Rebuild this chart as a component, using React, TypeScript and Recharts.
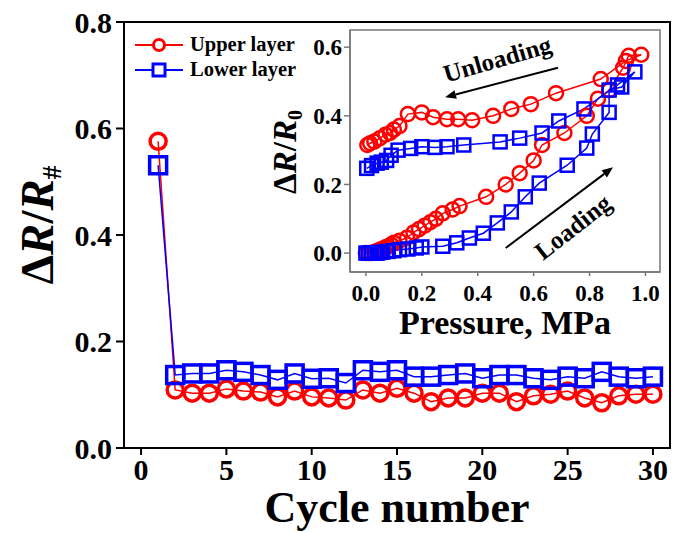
import React from "react";
import {
  LineChart,
  Line,
  XAxis,
  YAxis,
  Label,
  ReferenceArea,
  ReferenceLine,
  ReferenceDot,
} from "recharts";

// main plot: response per cycle
const cycles = [1, 2, 3, 4, 5, 6, 7, 8, 9, 10, 11, 12, 13, 14, 15, 16, 17, 18, 19, 20, 21, 22, 23, 24, 25, 26, 27, 28, 29, 30];
const upperCycle = [0.576, 0.109, 0.103, 0.103, 0.111, 0.107, 0.105, 0.096, 0.107, 0.096, 0.094, 0.09, 0.109, 0.103, 0.112, 0.103, 0.087, 0.094, 0.094, 0.103, 0.103, 0.087, 0.098, 0.101, 0.107, 0.094, 0.085, 0.098, 0.101, 0.101];
const lowerCycle = [0.531, 0.137, 0.14, 0.14, 0.146, 0.143, 0.137, 0.128, 0.14, 0.13, 0.131, 0.122, 0.146, 0.143, 0.146, 0.134, 0.134, 0.137, 0.14, 0.131, 0.137, 0.137, 0.131, 0.128, 0.134, 0.131, 0.143, 0.134, 0.131, 0.134];
const xTicks = [0, 5, 10, 15, 20, 25, 30];
const yTicks = [0, 0.2, 0.4, 0.6, 0.8];

// inset: loading then unloading loop
const upperP = [0.0, 0.01, 0.02, 0.03, 0.04, 0.05, 0.06, 0.07, 0.08, 0.09, 0.1, 0.12, 0.147, 0.17, 0.19, 0.21, 0.23, 0.25, 0.275, 0.31, 0.335, 0.43, 0.5, 0.55, 0.6, 0.63, 0.71, 0.79, 0.83, 0.87, 0.92, 0.94, 0.985,
  0.93, 0.84, 0.68, 0.59, 0.52, 0.455, 0.38, 0.33, 0.29, 0.24, 0.2, 0.15, 0.12, 0.1, 0.086, 0.07, 0.05, 0.03, 0.015, 0.005];
const upperR = [0.0, 0.0, 0.0, 0.003, 0.006, 0.01, 0.013, 0.017, 0.02, 0.025, 0.03, 0.036, 0.045, 0.06, 0.07, 0.08, 0.09, 0.1, 0.116, 0.127, 0.137, 0.164, 0.2, 0.233, 0.27, 0.315, 0.35, 0.4, 0.45, 0.475, 0.54, 0.575, 0.578,
  0.56, 0.507, 0.466, 0.434, 0.42, 0.4, 0.387, 0.39, 0.39, 0.396, 0.41, 0.405, 0.37, 0.36, 0.35, 0.345, 0.335, 0.325, 0.32, 0.315];
const lowerP = [0.0, 0.01, 0.02, 0.03, 0.04, 0.05, 0.06, 0.08, 0.1, 0.12, 0.15, 0.18, 0.2, 0.275, 0.325, 0.37, 0.42, 0.47, 0.52, 0.57, 0.62, 0.72, 0.79, 0.81, 0.87, 0.87, 0.915, 0.962,
  0.9, 0.78, 0.69, 0.63, 0.55, 0.48, 0.35, 0.29, 0.247, 0.2, 0.16, 0.115, 0.09, 0.074, 0.055, 0.04, 0.02, 0.003];
const lowerR = [0.0, 0.0, 0.0, 0.0, 0.0, 0.002, 0.003, 0.005, 0.007, 0.01, 0.012, 0.015, 0.018, 0.02, 0.03, 0.044, 0.058, 0.088, 0.12, 0.164, 0.204, 0.256, 0.306, 0.347, 0.41, 0.475, 0.484, 0.528,
  0.49, 0.42, 0.385, 0.35, 0.335, 0.324, 0.315, 0.31, 0.308, 0.31, 0.305, 0.3, 0.285, 0.27, 0.265, 0.262, 0.255, 0.247];
const insetXTicks = [0, 0.2, 0.4, 0.6, 0.8, 1.0];
const insetYTicks = [0, 0.2, 0.4, 0.6];

const RED = "#ff0000";
const BLUE = "#0000ff";
const FONT = "'Liberation Serif', 'Times New Roman', serif";

const cycleData = cycles.map((c, i) => ({ cycle: c, upper: upperCycle[i], lower: lowerCycle[i] }));
const upperLoop = upperP.map((p, i) => ({ p, v: upperR[i] }));
const lowerLoop = lowerP.map((p, i) => ({ p, v: lowerR[i] }));

const circleDot = (r: number, sw: number) => (props: any) => (
  <circle key={props.index} cx={props.cx} cy={props.cy} r={r} fill="none" stroke={RED} strokeWidth={sw} />
);
const squareDot = (h: number, sw: number) => (props: any) => (
  <rect key={props.index} x={props.cx - h} y={props.cy - h} width={h * 2} height={h * 2} fill="none" stroke={BLUE} strokeWidth={sw} />
);

const arrowShape = (props: any) => {
  const { x1, y1, x2, y2 } = props;
  const a = Math.atan2(y2 - y1, x2 - x1);
  const len = 11;
  const w = 4.5;
  const bx = x2 - len * Math.cos(a);
  const by = y2 - len * Math.sin(a);
  const px = -Math.sin(a) * w;
  const py = Math.cos(a) * w;
  return (
    <g>
      <line x1={x1} y1={y1} x2={bx} y2={by} stroke="#000" strokeWidth={2} />
      <polygon points={`${x2},${y2} ${bx + px},${by + py} ${bx - px},${by - py}`} fill="#000" />
    </g>
  );
};

const textAt = (txt: string, angle: number) => (props: any) => (
  <text
    x={props.cx}
    y={props.cy}
    transform={`rotate(${angle}, ${props.cx}, ${props.cy})`}
    textAnchor="middle"
    dominantBaseline="central"
    fontFamily={FONT}
    fontWeight="bold"
    fontSize={25}
    fill="#000"
  >
    {txt}
  </text>
);

const MainYLabel = (props: any) => {
  const vb = props.viewBox;
  const bx = 53;
  const cy = vb.y + vb.height / 2 - 10;
  return (
    <text x={bx} y={cy} transform={`rotate(-90, ${bx}, ${cy})`} textAnchor="middle" fontFamily={FONT} fontWeight="bold" fontSize={47} fill="#000">
      Δ<tspan fontStyle="italic">R</tspan>/<tspan fontStyle="italic">R</tspan>
      <tspan fontSize={27} dy={8}>#</tspan>
    </text>
  );
};

const MainXLabel = (props: any) => {
  const vb = props.viewBox;
  return (
    <text x={vb.x + vb.width / 2} y={vb.y + 74} textAnchor="middle" fontFamily={FONT} fontWeight="bold" fontSize={44} fill="#000">
      Cycle number
    </text>
  );
};

const InsetYLabel = (props: any) => {
  const vb = props.viewBox;
  const bx = vb.x + 46;
  const cy = vb.y + vb.height / 2 + 1;
  return (
    <text x={bx} y={cy} transform={`rotate(-90, ${bx}, ${cy})`} textAnchor="middle" fontFamily={FONT} fontWeight="bold" fontSize={33} fill="#000">
      Δ<tspan fontStyle="italic">R</tspan>/<tspan fontStyle="italic">R</tspan>
      <tspan fontSize={20} dy={6}>0</tspan>
    </text>
  );
};

const InsetXLabel = (props: any) => {
  const vb = props.viewBox;
  return (
    <text x={vb.x + vb.width / 2} y={vb.y + 62} textAnchor="middle" fontFamily={FONT} fontWeight="bold" fontSize={34} fill="#000">
      Pressure, MPa
    </text>
  );
};

const mainTick = { fontFamily: FONT, fontWeight: "bold", fontSize: 30, fill: "#000" };
const insetTick = { fontFamily: FONT, fontWeight: "bold", fontSize: 23, fill: "#000" };

function Legend() {
  const rows = [
    { label: "Upper layer", color: RED, y: 45, kind: "circle" },
    { label: "Lower layer", color: BLUE, y: 70, kind: "square" },
  ];
  return (
    <svg width={683} height={533} style={{ position: "absolute", left: 0, top: 0, pointerEvents: "none" }}>
      {rows.map((r) => (
        <g key={r.label}>
          <line x1={135} x2={183} y1={r.y} y2={r.y} stroke={r.color} strokeWidth={2} />
          {r.kind === "circle" ? (
            <circle cx={159} cy={r.y} r={5.5} fill="#fff" stroke={r.color} strokeWidth={3} />
          ) : (
            <rect x={153} y={r.y - 6} width={12} height={12} fill="#fff" stroke={r.color} strokeWidth={3} />
          )}
          <text x={190} y={r.y + 6} fontFamily={FONT} fontWeight="bold" fontSize={20.5} fill="#000">
            {r.label}
          </text>
        </g>
      ))}
    </svg>
  );
}

export default function App() {
  return (
    <div style={{ position: "absolute", left: 0, top: 0, width: 683, height: 533, background: "#fff" }}>
      <LineChart width={683} height={533} data={cycleData} margin={{ top: 22, right: 13, left: 0, bottom: 0 }}>
        <XAxis
          dataKey="cycle"
          type="number"
          domain={[-1, 31]}
          ticks={xTicks}
          height={85}
          tickSize={7}
          tickMargin={4}
          tick={mainTick}
          axisLine={{ stroke: "#000", strokeWidth: 2 }}
          tickLine={{ stroke: "#000", strokeWidth: 2 }}
        >
          <Label content={MainXLabel} />
        </XAxis>
        <YAxis
          type="number"
          domain={[0, 0.8]}
          ticks={yTicks}
          width={124}
          tickSize={8}
          tickMargin={4}
          tick={mainTick}
          tickFormatter={(v: number) => v.toFixed(1)}
          axisLine={{ stroke: "#000", strokeWidth: 2 }}
          tickLine={{ stroke: "#000", strokeWidth: 2 }}
        >
          <Label content={MainYLabel} />
        </YAxis>
        <ReferenceArea x1={-1} x2={31} y1={0} y2={0.8} fill="none" fillOpacity={0} stroke="#000" strokeWidth={2} />
        <Line dataKey="upper" stroke={RED} strokeWidth={1.5} dot={circleDot(8, 3.5)} isAnimationActive={false} />
        <Line dataKey="lower" stroke={BLUE} strokeWidth={1.5} dot={squareDot(8.5, 3.5)} isAnimationActive={false} />
      </LineChart>

      <div style={{ position: "absolute", left: 250, top: 0 }}>
        <LineChart width={420} height={340} margin={{ top: 30, right: 10, left: 0, bottom: 0 }}>
          <XAxis
            dataKey="p"
            type="number"
            domain={[-0.057, 1.052]}
            ticks={insetXTicks}
            allowDataOverflow
            height={68}
            tickSize={4}
            tickMargin={9}
            tick={insetTick}
            tickFormatter={(v: number) => v.toFixed(1)}
            axisLine={{ stroke: "#777", strokeWidth: 1.5 }}
            tickLine={{ stroke: "#777", strokeWidth: 1.5 }}
          >
            <Label content={InsetXLabel} />
          </XAxis>
          <YAxis
            type="number"
            domain={[-0.055, 0.65]}
            ticks={insetYTicks}
            allowDataOverflow
            width={100}
            tickSize={6}
            tickMargin={2}
            tick={insetTick}
            tickFormatter={(v: number) => v.toFixed(1)}
            axisLine={{ stroke: "#777", strokeWidth: 1.5 }}
            tickLine={{ stroke: "#777", strokeWidth: 1.5 }}
          >
            <Label content={InsetYLabel} />
          </YAxis>
          <ReferenceArea x1={-0.057} x2={1.052} y1={-0.055} y2={0.65} fill="none" fillOpacity={0} stroke="#777" strokeWidth={1.5} />
          <ReferenceLine segment={[{ x: 0.687, y: 0.54 }, { x: 0.283, y: 0.454 }]} shape={arrowShape} />
          <ReferenceLine segment={[{ x: 0.5, y: 0.015 }, { x: 0.884, y: 0.25 }]} shape={arrowShape} />
          <ReferenceDot x={0.47} y={0.565} r={0} shape={textAt("Unloading", -16)} />
          <ReferenceDot x={0.74} y={0.076} r={0} shape={textAt("Loading", -38)} />
          <Line data={upperLoop} dataKey="v" stroke={RED} strokeWidth={1.5} dot={circleDot(7, 2.5)} isAnimationActive={false} />
          <Line data={lowerLoop} dataKey="v" stroke={BLUE} strokeWidth={1.5} dot={squareDot(6.5, 2.5)} isAnimationActive={false} />
        </LineChart>
      </div>

      <Legend />
    </div>
  );
}
